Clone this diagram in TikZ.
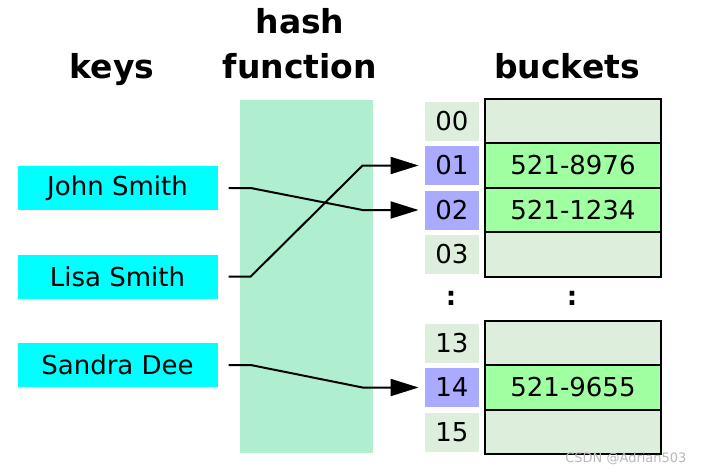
\documentclass[tikz,border=0pt]{standalone}
\usepackage{fontspec}
\setmainfont{DejaVu Sans}
\usetikzlibrary{arrows.meta}
\usetikzlibrary{positioning}
\definecolor{keycyan}{RGB}{0,255,255}
\definecolor{hashgreen}{RGB}{175,238,207}
\definecolor{emptygreen}{RGB}{221,238,221}
\definecolor{fullgreen}{RGB}{160,255,160}
\definecolor{usedblue}{RGB}{170,170,255}
\tikzstyle{title} = [font=\fontsize{33}{36}\selectfont\bfseries, anchor=base]
\tikzstyle{keybox} = [rectangle, fill=keycyan, 
    minimum width=200pt, minimum height=44pt, font=\fontsize{26}{30}\selectfont]
\tikzstyle{idx} = [rectangle, fill=emptygreen, inner sep=0pt,
    minimum width=54pt, minimum height=39pt, font=\fontsize{26}{30}\selectfont]
\tikzstyle{usedidx} = [idx, fill=usedblue]
\tikzstyle{slot} = [rectangle, draw, line width=2pt, fill=emptygreen, inner sep=0pt, outer sep=0pt,
    minimum width=176pt, minimum height=44.5pt, font=\fontsize{26}{30}\selectfont]
\tikzstyle{fullslot} = [slot, fill=fullgreen]
\tikzstyle{line} = [draw, line width=2pt, shorten >=6pt, -{Triangle[length=28pt,width=17pt]}]

\begin{document}
\begin{tikzpicture}[x=1pt, y=-1pt]
	\useasboundingbox (0,0) rectangle (706,474);
	\fill [white] (0,0) rectangle (706,474);
	\node [title] (keys) at (112,78) {keys};
	\node [title] (hash) at (300,33) {hash};
	\node [title] (func) at (300,78) {function};
	\node [title] (buck) at (567,78) {buckets};

	\node [fill=hashgreen, inner sep=0pt, minimum width=133pt, minimum height=353pt] (hashfn) at (306.5,276.5) {};

	\node [keybox] (john) at (117.5,188) {John Smith};
	\node [keybox] (lisa) at (117.5,276.5) {Lisa Smith};
	\node [keybox] (sandra) at (117.5,365) {Sandra Dee};

	\node [slot] (s00) at (573,121) {};
	\node [fullslot, below=0pt of s00] (s01) {521-8976};
	\node [fullslot, below=0pt of s01] (s02) {521-1234};
	\node [slot, below=0pt of s02] (s03) {};
	\node [slot] (s13) at (573,343) {};
	\node [fullslot, below=0pt of s13] (s14) {521-9655};
	\node [slot, below=0pt of s14] (s15) {};

	\node [idx, left=6pt of s00] (i00) {00};
	\node [usedidx, left=6pt of s01] (i01) {01};
	\node [usedidx, left=6pt of s02] (i02) {02};
	\node [idx, left=6pt of s03] (i03) {03};
	\node [idx, left=6pt of s13] (i13) {13};
	\node [usedidx, left=6pt of s14] (i14) {14};
	\node [idx, left=6pt of s15] (i15) {15};

	\node [font=\fontsize{26}{30}\selectfont\bfseries] (dotsi) at (451,298) {:};
	\node [font=\fontsize{26}{30}\selectfont\bfseries] (dotss) at (572,298) {:};

	\path [line] ([xshift=11pt]john.east) -- ++(22,0) -- ([xshift=-62pt]i02.west) -- (i02.west);
	\path [line] ([xshift=11pt]lisa.east) -- ++(22,0) -- ([xshift=-62pt]i01.west) -- (i01.west);
	\path [line] ([xshift=11pt]sandra.east) -- ++(22,0) -- ([xshift=-62pt]i14.west) -- (i14.west);

	\node [font=\fontsize{13}{15}\selectfont, text=gray!55, anchor=east] (mark) at (690,459) {CSDN @Adrian503};
\end{tikzpicture}
\end{document}
